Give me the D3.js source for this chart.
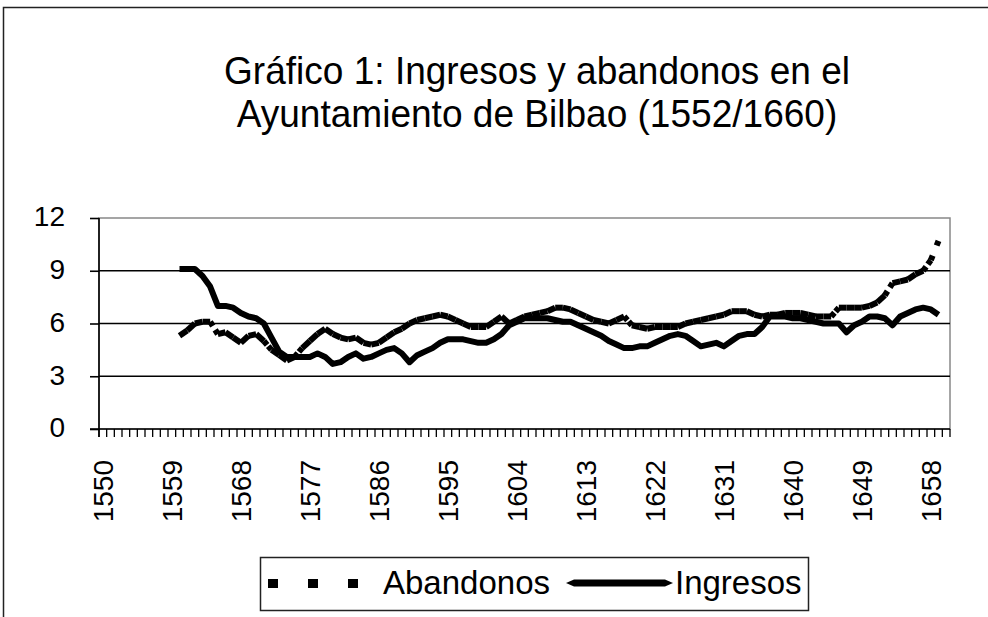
<!DOCTYPE html>
<html>
<head>
<meta charset="utf-8">
<script src="https://cdn.jsdelivr.net/npm/d3@7"></script>
<style>
  body { margin: 0; background: #fff; }
  svg { display: block; font-family: "Liberation Sans", Arial, sans-serif; }
</style>
</head>
<body>
<svg width="988" height="617"></svg>
<script>
const titleLines = ["Gráfico 1: Ingresos y abandonos en el", "Ayuntamiento de Bilbao (1552/1660)"];

// category axis: one slot per year
const firstYear = 1550, lastYear = 1660;
const tickYears = [1550, 1559, 1568, 1577, 1586, 1595, 1604, 1613, 1622, 1631, 1640, 1649, 1658];
const yTicks = [0, 3, 6, 9, 12];

// both series start in 1560, one value per year up to 1659
const seriesStart = 1560;
const abandonos = [
  5.3, 5.6, 6.0, 6.1, 6.1, 5.4, 5.5, 5.2, 4.9, 5.3,
  5.4, 5.0, 4.5, 4.2, 3.9, 4.1, 4.6, 5.0, 5.4, 5.7,
  5.4, 5.2, 5.1, 5.2, 4.9, 4.8, 4.9, 5.2, 5.5, 5.7,
  6.0, 6.2, 6.3, 6.4, 6.5, 6.4, 6.2, 6.0, 5.8, 5.8,
  5.8, 6.1, 6.4, 6.0, 6.2, 6.4, 6.5, 6.6, 6.7, 6.9,
  6.9, 6.8, 6.6, 6.4, 6.2, 6.1, 6.0, 6.2, 6.4, 5.9,
  5.8, 5.7, 5.8, 5.8, 5.8, 5.8, 6.0, 6.1, 6.2, 6.3,
  6.4, 6.5, 6.7, 6.7, 6.7, 6.5, 6.4, 6.5, 6.5, 6.6,
  6.6, 6.6, 6.5, 6.4, 6.4, 6.4, 6.9, 6.9, 6.9, 6.9,
  7.0, 7.2, 7.6, 8.3, 8.4, 8.5, 8.8, 9.0, 9.6, 10.7
];
const ingresos = [
  9.1, 9.1, 9.1, 8.7, 8.1, 7.0, 7.0, 6.9, 6.6, 6.4,
  6.3, 6.0, 5.2, 4.4, 4.1, 4.1, 4.1, 4.1, 4.3, 4.1,
  3.7, 3.8, 4.1, 4.3, 4.0, 4.1, 4.3, 4.5, 4.6, 4.3,
  3.8, 4.2, 4.4, 4.6, 4.9, 5.1, 5.1, 5.1, 5.0, 4.9,
  4.9, 5.1, 5.4, 5.9, 6.1, 6.3, 6.3, 6.3, 6.3, 6.2,
  6.1, 6.1, 5.9, 5.7, 5.5, 5.3, 5.0, 4.8, 4.6, 4.6,
  4.7, 4.7, 4.9, 5.1, 5.3, 5.4, 5.3, 5.0, 4.7, 4.8,
  4.9, 4.7, 5.0, 5.3, 5.4, 5.4, 5.8, 6.4, 6.4, 6.4,
  6.3, 6.3, 6.2, 6.1, 6.0, 6.0, 6.0, 5.5, 5.9, 6.1,
  6.4, 6.4, 6.3, 5.9, 6.4, 6.6, 6.8, 6.9, 6.8, 6.5
];

const svg = d3.select("svg");
const plotLeft = 99, plotRight = 950, plotTop = 218, plotBottom = 429;

const years = d3.range(firstYear, lastYear + 1);
const x = d3.scaleBand().domain(years).range([plotLeft, plotRight]);
const y = d3.scaleLinear().domain([0, 12]).range([plotBottom, plotTop]);
const cx = yr => x(yr) + x.bandwidth() / 2;

const toPoints = vals => vals.map((v, i) => ({ year: seriesStart + i, value: v }));

// outer frame (cut off at right and bottom in the original)
svg.append("path")
  .attr("d", "M3.5,617V7.5H988")
  .attr("fill", "none")
  .attr("stroke", "#222")
  .attr("stroke-width", 1.5);

// title
const titleG = svg.append("g").attr("transform", "translate(537,0)");
titleG.selectAll("text")
  .data(titleLines)
  .enter()
  .append("text")
  .attr("transform", (d, i) => `translate(0,${84 + i * 43}) scale(0.975,1)`)
  .attr("text-anchor", "middle")
  .attr("font-size", 38)
  .text(d => d);

// plot frame
svg.append("rect")
  .attr("x", plotLeft).attr("y", plotTop)
  .attr("width", plotRight - plotLeft).attr("height", plotBottom - plotTop)
  .attr("fill", "none")
  .attr("stroke", "#888")
  .attr("stroke-width", 1.5);

// gridlines
svg.append("g")
  .selectAll("line")
  .data(yTicks.filter(d => d > 0 && d < 12))
  .enter()
  .append("line")
  .attr("x1", plotLeft).attr("x2", plotRight)
  .attr("y1", d => y(d)).attr("y2", d => y(d))
  .attr("stroke", "#000")
  .attr("stroke-width", 1.6);

// y axis
const yAxis = svg.append("g")
  .attr("transform", `translate(${plotLeft},0)`)
  .call(d3.axisLeft(y).tickValues(yTicks).tickSize(9).tickPadding(25));
yAxis.select(".domain").attr("stroke", "#000").attr("stroke-width", 1.6)
  .attr("d", `M0,${plotTop}V${plotBottom + 8}`);
yAxis.selectAll(".tick line").attr("stroke", "#000").attr("stroke-width", 1.6);
yAxis.selectAll(".tick text")
  .attr("font-size", 28)
  .attr("font-family", "Liberation Sans, Arial, sans-serif")
  .attr("fill", "#000")
  .attr("dy", "0.28em");

// x axis: tick marks on category boundaries
const xAxis = svg.append("g").attr("transform", `translate(0,${plotBottom})`);
xAxis.append("line")
  .attr("x1", plotLeft - 9).attr("x2", plotRight)
  .attr("stroke", "#000").attr("stroke-width", 1.6);
xAxis.selectAll("line.tk")
  .data(years.concat([lastYear + 1]))
  .enter()
  .append("line")
  .attr("class", "tk")
  .attr("x1", d => d > lastYear ? plotRight : x(d))
  .attr("x2", d => d > lastYear ? plotRight : x(d))
  .attr("y1", 0).attr("y2", 8)
  .attr("stroke", "#000").attr("stroke-width", 1.3);
xAxis.selectAll("text")
  .data(tickYears)
  .enter()
  .append("text")
  .attr("transform", d => `translate(${cx(d)},31) rotate(-90)`)
  .attr("text-anchor", "end")
  .attr("dy", "0.35em")
  .attr("font-size", 28)
  .text(d => d);

// Ingresos: solid thick line
const line = d3.line().x(d => cx(d.year)).y(d => y(d.value));
svg.append("path")
  .datum(toPoints(ingresos))
  .attr("d", line)
  .attr("fill", "none")
  .attr("stroke", "#000")
  .attr("stroke-width", 6)
  .attr("stroke-linejoin", "round");

// Abandonos: dashed, but the pattern restarts at every point, so short
// segments look solid and only the steep ones break up
const ab = toPoints(abandonos);
const segs = ab.slice(1).map((d, i) => [ab[i], d]);
const segLen = d => Math.hypot(cx(d[1].year) - cx(d[0].year), y(d[1].value) - y(d[0].value));
svg.append("g")
  .selectAll("line")
  .data(segs)
  .enter()
  .append("line")
  .attr("x1", d => cx(d[0].year)).attr("y1", d => y(d[0].value))
  .attr("x2", d => cx(d[1].year)).attr("y2", d => y(d[1].value))
  .attr("stroke", "#000")
  .attr("stroke-width", 6)
  .attr("stroke-dasharray", d => {
    const len = segLen(d);
    return len > 11 ? `5,${(len - 10).toFixed(1)},5,40` : null;
  });

// legend
const legend = svg.append("g").attr("transform", "translate(260,557)");
legend.append("rect")
  .attr("x", 0.5).attr("y", 0.5)
  .attr("width", 548).attr("height", 53)
  .attr("fill", "#fff")
  .attr("stroke", "#222")
  .attr("stroke-width", 1.5);
legend.selectAll("rect.sq")
  .data([0, 1, 2])
  .enter()
  .append("rect")
  .attr("class", "sq")
  .attr("x", d => 8 + d * 40).attr("y", 22)
  .attr("width", 10).attr("height", 9)
  .attr("fill", "#000");
legend.append("text")
  .attr("x", 123).attr("y", 37)
  .attr("font-size", 33)
  .text("Abandonos");
legend.append("path")
  .attr("d", "M306,26L314,22.5H405L413,26L405,29.5H314Z")
  .attr("fill", "#000");
legend.append("text")
  .attr("x", 415).attr("y", 37)
  .attr("font-size", 33)
  .text("Ingresos");
</script>
</body>
</html>
